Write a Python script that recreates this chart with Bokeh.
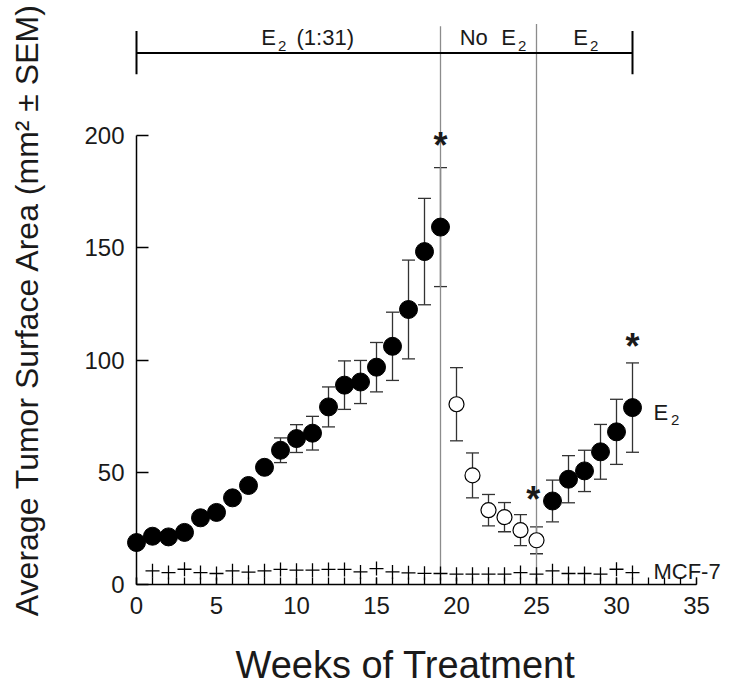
from bokeh.plotting import figure
from bokeh.models import (Range1d, LinearAxis, SingleIntervalTicker, FixedTicker,
                          Whisker, TeeHead, ColumnDataSource)
from bokeh.core.properties import value
from bokeh.embed import file_html
from bokeh.resources import INLINE

FONT = "Liberation Sans"
TXT = "#1a1a1a"

# ---------------- data ----------------
weeks_e2_first = list(range(0, 20))
area_e2_first = [18.7, 21.5, 21.2, 23.2, 29.7, 32.1, 38.6, 44.1, 52.2, 59.8,
                 65.0, 67.4, 79.1, 88.8, 90.2, 96.8, 106.1, 122.5, 148.3, 159.2]
sem_e2_first = [1.0, 1.2, 1.2, 1.5, 1.8, 2.0, 2.0, 2.2, 2.2, 5.5,
                6.2, 7.5, 8.9, 10.8, 9.6, 11.0, 15.2, 22.0, 23.7, 26.5]

weeks_no_e2 = [20, 21, 22, 23, 24, 25]
area_no_e2 = [80.3, 48.6, 33.1, 30.0, 24.2, 19.7]
sem_no_e2 = [16.3, 10.0, 7.0, 6.5, 6.9, 6.0]

weeks_e2_again = [26, 27, 28, 29, 30, 31]
area_e2_again = [37.2, 46.9, 50.6, 59.1, 68.0, 78.8]
sem_e2_again = [9.3, 10.5, 9.2, 12.2, 14.5, 19.9]

weeks_mcf7 = list(range(1, 32))
area_mcf7 = [6.1, 5.3, 6.8, 5.3, 4.9, 6.1, 5.5, 6.1, 6.7, 6.4,
             6.4, 6.7, 6.7, 5.6, 7.1, 5.6, 5.2, 5.0, 4.9, 4.6,
             4.6, 4.6, 4.6, 5.3, 4.6, 6.1, 4.9, 4.9, 4.6, 6.8, 5.3]

star_weeks = [19.0, 24.8, 31.0]
star_values = [197.9, 39.9, 108.1]

phase_bounds = [0, 19, 25, 31]       # E2 (1:31) | No E2 | E2
y_ticks = [0, 50, 100, 150, 200]

# ---------------- figure ----------------
PXW = 16.0      # px per week
PXY = 2.245     # px per mm^2
X0_PX, Y0_PX = 136, 584           # canvas position of (0, 0)
FRAME_L, FRAME_B = 77, 618
x_start = (FRAME_L - X0_PX) / PXW
p = figure(width=733, height=692, output_backend="svg", toolbar_location=None,
           x_range=Range1d(x_start, x_start + (733 - FRAME_L) / PXW),
           y_range=Range1d(-(FRAME_B - Y0_PX) / PXY, Y0_PX / PXY),
           x_axis_type=None, y_axis_type=None,
           min_border_left=FRAME_L, min_border_right=0, min_border_top=0,
           min_border_bottom=692 - FRAME_B)
p.outline_line_color = None
p.background_fill_color = "white"
p.border_fill_color = "white"

# x axis (drawn at y = 0)
xaxis = LinearAxis(ticker=SingleIntervalTicker(interval=5, num_minor_ticks=5),
                   bounds=(0, 35), fixed_location=0)
xaxis.axis_line_color = "black"
xaxis.axis_line_width = 1.5
xaxis.major_tick_in = 7
xaxis.major_tick_out = 0
xaxis.minor_tick_in = 7
xaxis.minor_tick_out = 0
xaxis.major_tick_line_color = "black"
xaxis.minor_tick_line_color = "black"
xaxis.major_tick_line_width = 1.3
xaxis.minor_tick_line_width = 1.3
xaxis.major_label_text_font = FONT
xaxis.major_label_text_font_size = "24px"
xaxis.major_label_text_color = TXT
xaxis.major_label_standoff = 12
p.add_layout(xaxis, "below")

# y axis (drawn at week 0)
yaxis = LinearAxis(ticker=FixedTicker(ticks=y_ticks), bounds=(0, 200), fixed_location=0)
yaxis.axis_line_color = "black"
yaxis.axis_line_width = 1.5
yaxis.major_tick_in = 12
yaxis.major_tick_out = 0
yaxis.minor_tick_line_color = None
yaxis.major_tick_line_color = "black"
yaxis.major_tick_line_width = 1.3
yaxis.major_label_text_font = FONT
yaxis.major_label_text_font_size = "24px"
yaxis.major_label_text_color = TXT
yaxis.major_label_standoff = 12
p.add_layout(yaxis, "left")

# axis titles, carried by label-only axes
def title_axis(label, size, standoff):
    ax = LinearAxis(ticker=FixedTicker(ticks=[]), axis_label=label)
    ax.axis_line_color = None
    ax.major_tick_line_color = None
    ax.minor_tick_line_color = None
    ax.axis_label_text_font = FONT
    ax.axis_label_text_font_size = size
    ax.axis_label_text_font_style = "normal"
    ax.axis_label_text_color = TXT
    ax.axis_label_standoff = standoff
    return ax

p.add_layout(title_axis("Average Tumor Surface Area (mm\u00b2 \u00b1 SEM)", "32px", 33), "left")
p.add_layout(title_axis("Weeks of Treatment", "38px", 25), "below")

# phase separators (gray verticals)
p.segment(x0=phase_bounds[1:3], y0=[0, 0], x1=phase_bounds[1:3], y1=[248.7, 249.7],
          line_color="#8c8c8c", line_width=1.3)

# top bracket
p.segment(x0=[phase_bounds[0]], y0=[236.7], x1=[phase_bounds[3]], y1=[236.7],
          line_color="black", line_width=2)
p.segment(x0=[phase_bounds[0], phase_bounds[3]], y0=[227.3, 227.3],
          x1=[phase_bounds[0], phase_bounds[3]], y1=[246.5, 246.5],
          line_color="black", line_width=2)

# error bars
def add_err(weeks, vals, sems):
    src = ColumnDataSource(dict(x=weeks, lo=[v - s for v, s in zip(vals, sems)],
                                hi=[v + s for v, s in zip(vals, sems)]))
    w = Whisker(base="x", lower="lo", upper="hi", source=src, dimension="height",
                line_color="#333333", line_width=1.3,
                upper_head=TeeHead(size=13, line_color="#333333", line_width=1.3),
                lower_head=TeeHead(size=13, line_color="#333333", line_width=1.3),
                level="underlay")
    p.add_layout(w)

add_err(weeks_e2_first, area_e2_first, sem_e2_first)
add_err(weeks_no_e2, area_no_e2, sem_no_e2)
add_err(weeks_e2_again, area_e2_again, sem_e2_again)

# markers
p.scatter(weeks_e2_first, area_e2_first, size=18, marker="circle",
          fill_color="black", line_color="black")
p.scatter(weeks_e2_again, area_e2_again, size=18, marker="circle",
          fill_color="black", line_color="black")
p.scatter(weeks_no_e2, area_no_e2, size=15, marker="circle",
          fill_color="white", line_color="black", line_width=1.2)
p.scatter(weeks_mcf7, area_mcf7, size=14, marker="cross",
          line_color="black", line_width=1.3)

# asterisks
p.text(x=star_weeks, y=[v - 2.2 for v in star_values], text=["*"] * 3,
       text_font=value(FONT), text_font_size="36px", text_font_style="bold",
       text_align="center", text_baseline="alphabetic", text_color=TXT)

# labels (main + subscript)
main_x = [7.8, 10.0, 20.2, 22.8, 27.3, 32.31, 32.31]
main_y = [243.8, 243.8, 243.8, 243.8, 243.8, 76.6, 5.6]
main_t = ["E", "(1:31)", "No", "E", "E", "E", "MCF-7"]
p.text(x=main_x, y=main_y, text=main_t, text_font=value(FONT), text_font_size="22px",
       text_align="left", text_baseline="alphabetic", text_color=TXT)
sub_x = [8.85, 23.85, 28.35, 33.4]
sub_y = [240.0, 240.0, 240.0, 73.1]
p.text(x=sub_x, y=sub_y, text=["2"] * 4, text_font=value(FONT), text_font_size="15px",
       text_align="left", text_baseline="alphabetic", text_color=TXT)

open("out.html", "w").write(file_html(p, INLINE))
